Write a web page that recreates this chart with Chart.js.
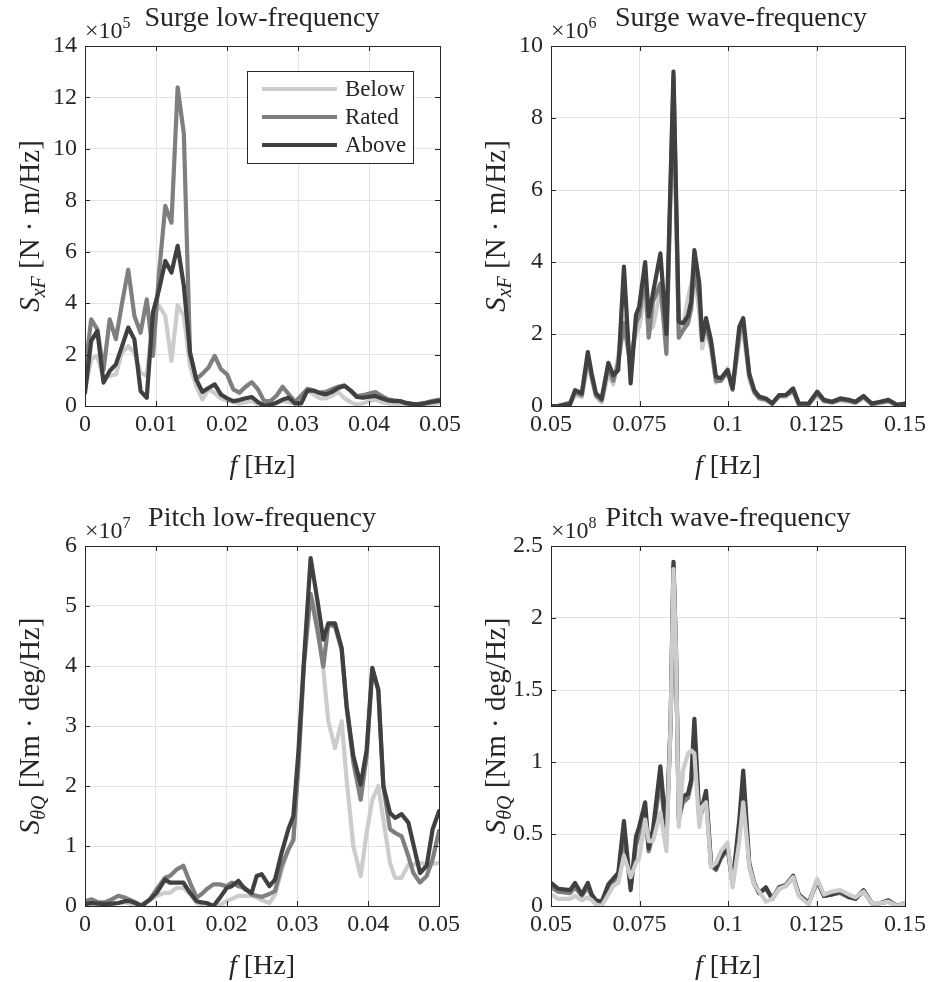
<!DOCTYPE html>
<html>
<head>
<meta charset="utf-8">
<script src="https://cdn.jsdelivr.net/npm/chart.js@4.4.1/dist/chart.umd.min.js"></script>
<style>
  body { margin: 0; background: #fff; }
  #wrap { position: relative; width: 930px; height: 982px; }
  .cell { position: absolute; width: 465px; height: 491px; }
</style>
</head>
<body>
<div id="wrap">
  <div class="cell" style="left:0;top:0"><canvas id="c1" width="465" height="491"></canvas></div>
  <div class="cell" style="left:465px;top:0"><canvas id="c2" width="465" height="491"></canvas></div>
  <div class="cell" style="left:0;top:491px"><canvas id="c3" width="465" height="491"></canvas></div>
  <div class="cell" style="left:465px;top:491px"><canvas id="c4" width="465" height="491"></canvas></div>
</div>
<script>
// 1. Data
// Surge low-frequency  (x 1e5 N.m/Hz)
const surgeLowFreq = [0, 0.00087, 0.00174, 0.00261, 0.00348, 0.00435, 0.00522, 0.00609, 0.00696, 0.00783,
  0.0087, 0.00957, 0.01044, 0.01131, 0.01218, 0.01305, 0.01392, 0.01479, 0.01566, 0.01653,
  0.0174, 0.01827, 0.01914, 0.02001, 0.02088, 0.02175, 0.02262, 0.02349, 0.02436, 0.02523,
  0.0261, 0.02697, 0.02784, 0.02871, 0.02958, 0.03045, 0.03132, 0.03219, 0.03306, 0.03393,
  0.0348, 0.03567, 0.03654, 0.03741, 0.03828, 0.03915, 0.04002, 0.04089, 0.04176, 0.04263,
  0.0435, 0.04437, 0.04524, 0.04611, 0.04698, 0.04785, 0.04872, 0.04959, 0.05];
const surgeLowBelow = [0.6, 1.82, 1.95, 1.04, 1.17, 1.23, 2.07, 2.33, 2.07, 1.3,
  1.17, 3.5, 3.89, 3.5, 1.75, 3.92, 3.5, 1.56, 0.78, 0.26,
  0.65, 0.5, 0.3, 0.2, 0.15, 0.1, 0.15, 0.2, 0.05, 0.02,
  0.05, 0.1, 0.2, 0.15, 0.1, 0.3, 0.6, 0.45, 0.3, 0.3,
  0.4, 0.55, 0.3, 0.15, 0.05, 0.1, 0.2, 0.25, 0.15, 0.1,
  0.08, 0.05, 0.02, 0.0, 0.02, 0.05, 0.08, 0.1, 0.12];
const surgeLowRated = [1.3, 3.37, 2.98, 1.4, 3.37, 2.6, 4.0, 5.3, 3.5, 2.85,
  4.15, 1.95, 5.2, 7.78, 7.13, 12.39, 10.6, 2.07, 1.04, 1.25,
  1.5, 1.95, 1.43, 1.23, 0.65, 0.52, 0.75, 0.93, 0.65, 0.19,
  0.19, 0.4, 0.75, 0.45, 0.16, 0.4, 0.67, 0.6, 0.52, 0.55,
  0.65, 0.75, 0.8, 0.6, 0.39, 0.42, 0.48, 0.54, 0.4, 0.26,
  0.22, 0.19, 0.1, 0.06, 0.08, 0.12, 0.18, 0.23, 0.25];
const surgeLowAbove = [0.52, 2.53, 2.92, 0.91, 1.36, 1.62, 2.33, 3.05, 2.59, 0.58,
  0.32, 3.63, 4.54, 5.64, 5.19, 6.23, 4.67, 2.07, 1.04, 0.55,
  0.7, 0.84, 0.45, 0.3, 0.19, 0.23, 0.3, 0.35, 0.15, 0.02,
  0.05, 0.13, 0.25, 0.32, 0.1, 0.1, 0.6, 0.6, 0.5, 0.45,
  0.55, 0.7, 0.78, 0.6, 0.35, 0.32, 0.36, 0.39, 0.3, 0.22,
  0.19, 0.19, 0.12, 0.08, 0.06, 0.1, 0.15, 0.19, 0.2];

// Surge wave-frequency  (x 1e6 N.m/Hz)
const surgeWaveFreq = [0.05, 0.052, 0.0554, 0.0568, 0.0587, 0.0604, 0.0615, 0.0627, 0.0643, 0.0662,
  0.0676, 0.069, 0.0706, 0.0725, 0.074, 0.0749, 0.0766, 0.0776, 0.0788, 0.0809,
  0.0826, 0.0846, 0.0861, 0.0873, 0.0887, 0.0896, 0.0905, 0.0919, 0.0927, 0.0938,
  0.0952, 0.0966, 0.098, 0.0999, 0.1013, 0.1032, 0.1043, 0.106, 0.1074, 0.1088,
  0.1107, 0.1125, 0.1144, 0.1163, 0.1184, 0.12, 0.1228, 0.1252, 0.1271, 0.1294,
  0.1317, 0.1341, 0.136, 0.1383, 0.1406, 0.143, 0.1453, 0.1477, 0.15];
const surgeWaveBelow = [0, 0, 0.05, 0.3, 0.25, 1.2, 0.75, 0.25, 0.1, 0.9,
  0.6, 1.4, 2.5, 1.3, 2.0, 2.2, 3.1, 2.1, 2.2, 3.2,
  1.8, 8.9, 2.0, 2.2, 3.0, 3.4, 3.7, 2.6, 1.6, 2.1,
  1.6, 0.65, 0.75, 1.05, 0.5, 1.8, 2.1, 0.75, 0.35, 0.2,
  0.15, 0.05, 0.25, 0.25, 0.4, 0.04, 0.05, 0.3, 0.12, 0.1,
  0.15, 0.12, 0.08, 0.22, 0.05, 0.08, 0.12, 0.02, 0.05];
const surgeWaveRated = [0, 0, 0.1, 0.38, 0.3, 1.35, 0.8, 0.3, 0.15, 1.1,
  0.7, 1.2, 2.3, 1.1, 2.3, 2.5, 3.6, 1.9, 2.9, 3.4,
  1.45, 9.1, 1.9, 2.1, 2.3, 2.7, 3.8, 3.0, 1.9, 2.2,
  1.7, 0.7, 0.7, 0.95, 0.45, 2.0, 2.3, 0.85, 0.4, 0.22,
  0.18, 0.08, 0.28, 0.3, 0.42, 0.05, 0.05, 0.35, 0.15, 0.1,
  0.18, 0.15, 0.1, 0.25, 0.05, 0.1, 0.14, 0.03, 0.06];
const surgeWaveAbove = [0, 0, 0.05, 0.44, 0.35, 1.5, 0.9, 0.35, 0.2, 1.2,
  0.85, 1.0, 3.87, 0.63, 2.53, 2.76, 4.0, 2.48, 3.13, 4.24,
  2.0, 9.29, 2.34, 2.3, 2.5, 2.9, 4.33, 3.4, 1.83, 2.44,
  1.83, 0.81, 0.77, 1.0, 0.49, 2.2, 2.44, 0.9, 0.44, 0.26,
  0.21, 0.07, 0.3, 0.3, 0.49, 0.07, 0.07, 0.4, 0.17, 0.12,
  0.21, 0.17, 0.12, 0.28, 0.07, 0.12, 0.17, 0.03, 0.07];

// Pitch low-frequency  (x 1e7 Nm.deg/Hz)
const pitchLowFreq = [0, 0.00094, 0.00188, 0.00282, 0.00377, 0.00471, 0.00565, 0.00636, 0.0073, 0.008,
  0.00918, 0.01012, 0.0113, 0.012, 0.01295, 0.01389, 0.01483, 0.01577, 0.01648, 0.01718,
  0.01813, 0.01907, 0.02001, 0.02072, 0.02166, 0.0226, 0.02354, 0.02425, 0.02495, 0.02604,
  0.02684, 0.02778, 0.02872, 0.02943, 0.03013, 0.03093, 0.03187, 0.03282, 0.03366, 0.03437,
  0.03531, 0.03625, 0.03696, 0.0379, 0.03894, 0.03978, 0.04058, 0.04143, 0.04214, 0.04308,
  0.04379, 0.04473, 0.04567, 0.04638, 0.04732, 0.04826, 0.0491, 0.05];
const pitchLowBelow = [0.02, 0.03, 0.02, 0.02, 0.03, 0.05, 0.06, 0.04, 0.02, 0.03,
  0.1, 0.17, 0.22, 0.22, 0.3, 0.3, 0.2, 0.05, 0.02, 0.0,
  0.0, 0.02, 0.08, 0.12, 0.17, 0.17, 0.17, 0.14, 0.1, 0.05,
  0.19, 0.6, 0.94, 1.1, 2.4, 4.0, 5.2, 4.8, 3.94, 3.08,
  2.63, 3.08, 2.1, 1.0, 0.5, 1.22, 1.77, 2.0, 1.44, 0.72,
  0.47, 0.47, 0.69, 0.69, 0.72, 0.69, 0.7, 0.72];
const pitchLowRated = [0.08, 0.11, 0.06, 0.06, 0.11, 0.17, 0.14, 0.1, 0.05, 0.0,
  0.11, 0.28, 0.47, 0.5, 0.61, 0.67, 0.39, 0.14, 0.2, 0.28,
  0.36, 0.36, 0.33, 0.39, 0.33, 0.3, 0.19, 0.17, 0.15, 0.2,
  0.25, 0.67, 0.94, 1.1, 2.3, 4.05, 5.2, 4.6, 3.99, 4.69,
  4.66, 4.27, 3.3, 2.4, 1.77, 2.5, 3.94, 3.6, 2.0, 1.28,
  1.22, 1.16, 0.83, 0.55, 0.39, 0.5, 0.78, 1.25];
const pitchLowAbove = [0.03, 0.05, 0.04, 0.03, 0.04, 0.05, 0.08, 0.08, 0.04, 0.0,
  0.11, 0.22, 0.44, 0.39, 0.39, 0.39, 0.22, 0.08, 0.06, 0.05,
  0.0, 0.14, 0.3, 0.33, 0.42, 0.28, 0.22, 0.5, 0.53, 0.33,
  0.44, 0.89, 1.28, 1.5, 2.55, 4.1, 5.8, 5.1, 4.44, 4.71,
  4.71, 4.3, 3.33, 2.5, 2.02, 2.6, 3.97, 3.6, 2.0, 1.55,
  1.47, 1.53, 1.39, 1.03, 0.55, 0.67, 1.28, 1.58];

// Pitch wave-frequency  (x 1e8 Nm.deg/Hz)
const pitchWaveFreq = [0.05, 0.052, 0.0554, 0.0568, 0.0587, 0.0604, 0.0615, 0.0627, 0.0643, 0.0662,
  0.0676, 0.069, 0.0706, 0.0725, 0.074, 0.0749, 0.0766, 0.0776, 0.0788, 0.0809,
  0.0826, 0.0838, 0.0846, 0.0853, 0.0861, 0.0873, 0.0887, 0.0896, 0.0905, 0.0919,
  0.0927, 0.0938, 0.0952, 0.0966, 0.098, 0.0999, 0.1013, 0.1032, 0.1043, 0.106,
  0.1074, 0.1088, 0.1107, 0.1125, 0.1144, 0.1163, 0.1184, 0.12, 0.1228, 0.1252,
  0.1271, 0.1294, 0.1317, 0.1341, 0.136, 0.1383, 0.1406, 0.143, 0.1453, 0.1477, 0.15];
const pitchWaveBelow = [0.08, 0.05, 0.05, 0.07, 0.04, 0.06, 0.04, 0.01, 0.0, 0.08,
  0.14, 0.16, 0.35, 0.2, 0.3, 0.33, 0.6, 0.45, 0.45, 0.65,
  0.38, 1.28, 2.34, 1.77, 0.55, 0.94, 1.06, 1.08, 1.06, 0.55,
  0.69, 0.72, 0.27, 0.3, 0.38, 0.44, 0.13, 0.45, 0.72, 0.28,
  0.15, 0.1, 0.03, 0.05, 0.12, 0.14, 0.2, 0.07, 0.01, 0.19,
  0.08, 0.1, 0.11, 0.08, 0.06, 0.1, 0.02, 0.02, 0.03, 0.0, 0.02];
const pitchWaveRated = [0.13, 0.1, 0.09, 0.13, 0.07, 0.13, 0.07, 0.03, 0.02, 0.13,
  0.17, 0.2, 0.5, 0.13, 0.42, 0.5, 0.66, 0.38, 0.5, 0.88,
  0.45, 1.28, 2.36, 1.78, 0.6, 0.72, 0.75, 0.85, 1.2, 0.6,
  0.66, 0.76, 0.28, 0.25, 0.33, 0.4, 0.15, 0.55, 0.85, 0.28,
  0.15, 0.09, 0.12, 0.05, 0.12, 0.14, 0.2, 0.08, 0.02, 0.17,
  0.07, 0.08, 0.09, 0.06, 0.05, 0.1, 0.02, 0.02, 0.03, 0.0, 0.02];
const pitchWaveAbove = [0.16, 0.12, 0.11, 0.16, 0.08, 0.16, 0.08, 0.04, 0.03, 0.15,
  0.19, 0.23, 0.59, 0.11, 0.48, 0.55, 0.72, 0.4, 0.53, 0.97,
  0.5, 1.28, 2.39, 1.78, 0.62, 0.76, 0.78, 0.875, 1.3, 0.62,
  0.69, 0.8, 0.3, 0.26, 0.34, 0.41, 0.16, 0.6, 0.94, 0.3,
  0.16, 0.09, 0.13, 0.05, 0.13, 0.145, 0.21, 0.08, 0.02, 0.18,
  0.07, 0.08, 0.1, 0.065, 0.05, 0.11, 0.02, 0.02, 0.04, 0.0, 0.02];

// Ticks
const lowXTicks = [0, 0.01, 0.02, 0.03, 0.04, 0.05];
const lowXLabels = ['0', '0.01', '0.02', '0.03', '0.04', '0.05'];
const waveXTicks = [0.05, 0.075, 0.1, 0.125, 0.15];
const waveXLabels = ['0.05', '0.075', '0.1', '0.125', '0.15'];
const surgeLowYTicks = [0, 2, 4, 6, 8, 10, 12, 14];
const surgeWaveYTicks = [0, 2, 4, 6, 8, 10];
const pitchLowYTicks = [0, 1, 2, 3, 4, 5, 6];
const pitchWaveYTicks = [0, 0.5, 1, 1.5, 2, 2.5];
const pitchWaveYLabels = ['0', '0.5', '1', '1.5', '2', '2.5'];

const seriesNames = ['Below', 'Rated', 'Above'];
const seriesColors = ['#cccccc', '#7f7f7f', '#404040'];

// 2. Helpers
const FONT = '"Liberation Serif", "DejaVu Serif", serif';
const INK = '#262626';
const LABEL_SIZE = 29, SUB_SIZE = 20;

function fontStr(size, italic) {
  return (italic ? 'italic ' : '') + size + 'px ' + FONT;
}

// parts: [text, style] with style 'r' regular, 'i' italic, 'sub' italic subscript, 'sup' superscript
function drawRich(ctx, parts, x, y, angle, align, size) {
  const big = size || LABEL_SIZE;
  const small = size ? Math.round(size * 0.68) : SUB_SIZE;
  const fontFor = st => (st === 'sub' || st === 'sup') ? fontStr(small, st === 'sub') : fontStr(big, st === 'i');
  ctx.save();
  ctx.translate(x, y);
  ctx.rotate(angle || 0);
  let total = 0;
  const widths = parts.map(p => {
    ctx.font = fontFor(p[1]);
    const w = ctx.measureText(p[0]).width;
    total += w;
    return w;
  });
  let cx = align === 'left' ? 0 : -total / 2;
  ctx.fillStyle = INK;
  ctx.textBaseline = 'alphabetic';
  parts.forEach((p, k) => {
    let dy = 0;
    if (p[1] === 'sub') dy = big * 0.22;
    else if (p[1] === 'sup') dy = -big * 0.4;
    ctx.font = fontFor(p[1]);
    ctx.fillText(p[0], cx, dy);
    cx += widths[k];
  });
  ctx.restore();
}

// frame, inner ticks, titles, labels, legend
const matlabAxes = {
  id: 'matlabAxes',
  afterDraw(chart) {
    const o = chart.options.plugins.matlabAxes;
    const ctx = chart.ctx;
    const a = chart.chartArea;
    const xs = chart.scales.x, ys = chart.scales.y;
    ctx.save();
    ctx.strokeStyle = INK;
    ctx.lineWidth = 1;
    ctx.beginPath();
    o.xTicks.forEach(v => {
      const px = Math.round(xs.getPixelForValue(v)) + 0.5;
      ctx.moveTo(px, a.bottom); ctx.lineTo(px, a.bottom - 5);
      ctx.moveTo(px, a.top); ctx.lineTo(px, a.top + 5);
    });
    o.yTicks.forEach(v => {
      const py = Math.round(ys.getPixelForValue(v)) + 0.5;
      ctx.moveTo(a.left, py); ctx.lineTo(a.left + 5, py);
      ctx.moveTo(a.right, py); ctx.lineTo(a.right - 5, py);
    });
    ctx.stroke();
    ctx.strokeRect(Math.round(a.left) + 0.5, Math.round(a.top) + 0.5,
      Math.round(a.right - a.left), Math.round(a.bottom - a.top));

    // exponent and title
    drawRich(ctx, [['\u00d710', 'r'], [o.exp, 'sup']], a.left, a.top - 8, 0, 'left', 24);
    ctx.font = fontStr(28, false);
    ctx.fillStyle = INK;
    ctx.textAlign = 'center';
    ctx.textBaseline = 'alphabetic';
    ctx.fillText(o.title, o.titleX, a.top - 20);
    ctx.textAlign = 'left';

    // axis labels
    drawRich(ctx, [['f', 'i'], [' [Hz]', 'r']], (a.left + a.right) / 2, a.bottom + 68, 0, null, 28);
    drawRich(ctx, [['S', 'i'], [o.ySub, 'sub'], [' ' + o.yUnit, 'r']],
      a.left - 46, (a.top + a.bottom) / 2, -Math.PI / 2);

    // legend
    if (o.legend) {
      const b = o.legend;
      ctx.fillStyle = '#fff';
      ctx.fillRect(b.x, b.y, b.w, b.h);
      ctx.strokeStyle = INK;
      ctx.lineWidth = 1;
      ctx.strokeRect(b.x + 0.5, b.y + 0.5, b.w, b.h);
      chart.data.datasets.forEach((ds, k) => {
        const ly = b.y + 18 + k * 28;
        ctx.strokeStyle = ds.borderColor;
        ctx.lineWidth = 4.2;
        ctx.beginPath();
        ctx.moveTo(b.x + 15, ly); ctx.lineTo(b.x + 90, ly);
        ctx.stroke();
        ctx.fillStyle = INK;
        ctx.font = fontStr(23, false);
        ctx.textBaseline = 'middle';
        ctx.fillText(ds.label, b.x + 98, ly + 1);
      });
    }
    ctx.restore();
  }
};

// 3. Chart builder
function makeChart(id, p) {
  const series = [p.below, p.rated, p.above];
  const datasets = series.map((vals, k) => ({
    label: seriesNames[k],
    data: p.freq.map((f, i) => ({ x: f, y: vals[i] })),
    borderColor: seriesColors[k],
    borderWidth: 4.2,
    borderJoinStyle: 'round',
    borderCapStyle: 'round',
    pointRadius: 0,
    tension: 0,
    clip: 0,
    order: p.drawOrder[k]
  }));
  return new Chart(document.getElementById(id), {
    type: 'line',
    data: { datasets: datasets },
    options: {
      responsive: false,
      animation: false,
      events: [],
      layout: { padding: { left: 0, top: p.top, right: p.right, bottom: 0 } },
      scales: {
        x: {
          type: 'linear', min: p.xTicks[0], max: p.xTicks[p.xTicks.length - 1],
          afterBuildTicks: s => { s.ticks = p.xTicks.map(v => ({ value: v })); },
          afterFit: s => { s.height = p.xHeight; },
          ticks: { callback: (v, i) => p.xLabels[i], font: { family: FONT, size: 24 }, color: INK, padding: 4, maxRotation: 0, autoSkip: false },
          grid: { color: '#e3e3e3', drawTicks: false },
          border: { display: false }
        },
        y: {
          type: 'linear', min: 0, max: p.yTicks[p.yTicks.length - 1],
          afterBuildTicks: s => { s.ticks = p.yTicks.map(v => ({ value: v })); },
          afterFit: s => { s.width = p.yWidth; },
          ticks: { callback: (v, i) => p.yLabels[i], font: { family: FONT, size: 24 }, color: INK, padding: 8, autoSkip: false },
          grid: { color: '#e3e3e3', drawTicks: false },
          border: { display: false }
        }
      },
      plugins: {
        legend: { display: false },
        tooltip: { enabled: false },
        matlabAxes: {
          xTicks: p.xTicks, yTicks: p.yTicks, exp: p.exp, title: p.title, titleX: p.titleX,
          ySub: p.ySub, yUnit: p.yUnit, legend: p.legend
        }
      }
    },
    plugins: [matlabAxes]
  });
}

makeChart('c1', {
  freq: surgeLowFreq, below: surgeLowBelow, rated: surgeLowRated, above: surgeLowAbove,
  drawOrder: [2, 1, 0],
  xTicks: lowXTicks, xLabels: lowXLabels, yTicks: surgeLowYTicks, yLabels: surgeLowYTicks.map(String),
  top: 46, right: 25, xHeight: 85, yWidth: 85,
  exp: '5', title: 'Surge low-frequency', titleX: 262,
  ySub: 'xF', yUnit: '[N \u00b7 m/Hz]',
  legend: { x: 247, y: 71, w: 166, h: 92 }
});
makeChart('c2', {
  freq: surgeWaveFreq, below: surgeWaveBelow, rated: surgeWaveRated, above: surgeWaveAbove,
  drawOrder: [2, 1, 0],
  xTicks: waveXTicks, xLabels: waveXLabels, yTicks: surgeWaveYTicks, yLabels: surgeWaveYTicks.map(String),
  top: 46, right: 23, xHeight: 85, yWidth: 86,
  exp: '6', title: 'Surge wave-frequency', titleX: 276,
  ySub: 'xF', yUnit: '[N \u00b7 m/Hz]'
});
makeChart('c3', {
  freq: pitchLowFreq, below: pitchLowBelow, rated: pitchLowRated, above: pitchLowAbove,
  drawOrder: [2, 1, 0],
  xTicks: lowXTicks, xLabels: lowXLabels, yTicks: pitchLowYTicks, yLabels: pitchLowYTicks.map(String),
  top: 55, right: 26, xHeight: 76, yWidth: 85,
  exp: '7', title: 'Pitch low-frequency', titleX: 262,
  ySub: '\u03b8Q', yUnit: '[Nm \u00b7 deg/Hz]'
});
makeChart('c4', {
  freq: pitchWaveFreq, below: pitchWaveBelow, rated: pitchWaveRated, above: pitchWaveAbove,
  drawOrder: [0, 2, 1],
  xTicks: waveXTicks, xLabels: waveXLabels, yTicks: pitchWaveYTicks, yLabels: pitchWaveYLabels,
  top: 55, right: 23, xHeight: 76, yWidth: 86,
  exp: '8', title: 'Pitch wave-frequency', titleX: 263,
  ySub: '\u03b8Q', yUnit: '[Nm \u00b7 deg/Hz]'
});
</script>
</body>
</html>
